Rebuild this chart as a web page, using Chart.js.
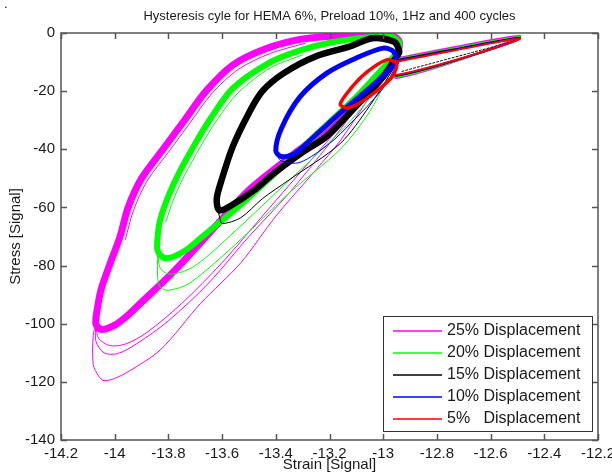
<!DOCTYPE html>
<html>
<head>
<meta charset="utf-8">
<script src="https://cdn.jsdelivr.net/npm/chart.js@4"></script>
<style>
  html, body { margin: 0; padding: 0; background: #fff; }
  #wrap { width: 612px; height: 474px; }
</style>
</head>
<body>
<div id="wrap"><canvas id="hyst" width="612" height="474"></canvas></div>
<script>
// tick labels
const xTickLabels = ['-14.2', '-14', '-13.8', '-13.6', '-13.4', '-13.2', '-13', '-12.8', '-12.6', '-12.4', '-12.2'];
const yTickLabels = ['-140', '-120', '-100', '-80', '-60', '-40', '-20', '0'];

const legendLabels = ['25% Displacement', '20% Displacement', '15% Displacement', '10% Displacement', '5%   Displacement'];
const seriesColors = ['#ff00ff', '#00ff00', '#000000', '#0000ff', '#ff0000'];

// 25% displacement - settled loop (thick band) and first cycles
const strain25 = [-12.95, -12.94, -12.97, -13.03, -13.18, -13.31, -13.44, -13.56, -13.66, -13.74, -13.82, -13.90, -13.95, -13.98, -14.02, -14.05, -14.065, -14.07, -14.05, -14.00, -13.95, -13.91, -13.78, -13.62, -13.50, -13.31, -13.21, -13.10, -13.00, -12.95];
const stress25 = [-9, -3, -0.8, -0.6, -1, -2.2, -5.5, -11, -20, -30, -40, -50, -60, -70, -80, -88, -95, -100, -102, -100.5, -97, -93.5, -82, -66, -54, -40, -33, -23, -13, -9];
const strain25First = [-12.95, -12.97, -13.05, -13.16, -13.25, -13.40, -13.53, -13.68, -13.83, -13.95, -14.00, -14.04, -14.06, -14.08, -14.08, -14.07];
const stress25First = [-9, -12, -22, -37, -47, -63, -79, -93, -109, -116.5, -118.8, -119.6, -118, -114, -104, -100];
const strain25Second = [-14.07, -14.07, -14.04, -13.99, -13.92, -13.80, -13.65, -13.50, -13.35, -13.20, -13.05, -12.96];
const stress25Second = [-100, -106, -110, -110.3, -107, -99, -86, -70, -55, -38, -20, -11];
const strain25Third = [-14.07, -14.06, -14.02, -13.96, -13.88, -13.75, -13.60, -13.45, -13.30, -13.15, -13.02, -12.96];
const stress25Third = [-101, -105, -107.5, -107, -103, -93, -79, -63, -47, -31, -16, -10];
const strain25Inner = [-13.29, -13.42, -13.54, -13.64, -13.72, -13.80, -13.88, -13.93, -13.96];
const stress25Inner = [-3.5, -7, -12.5, -21, -31, -41, -51, -61, -71];

// 20% displacement
const strain20 = [-12.95, -12.94, -12.97, -13.05, -13.19, -13.31, -13.43, -13.56, -13.64, -13.70, -13.76, -13.80, -13.83, -13.84, -13.84, -13.81, -13.74, -13.66, -13.53, -13.40, -13.25, -13.10, -13.00, -12.95];
const stress20 = [-7, -3.5, -1.3, -1.5, -3.2, -6, -10.5, -19, -29, -38, -48, -56, -64, -70, -75, -77.5, -75, -69, -59, -48, -35, -22, -12, -7];
const strain20First = [-12.97, -13.05, -13.16, -13.35, -13.53, -13.72, -13.80, -13.83, -13.84, -13.84];
const stress20First = [-13, -27, -40, -55, -71, -86, -88.5, -87.5, -84, -76];
const strain20Second = [-13.84, -13.83, -13.79, -13.70, -13.55, -13.40, -13.25, -13.10, -12.97];
const stress20Second = [-75, -81, -83, -80, -68, -55, -42, -28, -12];
const strain20Inner = [-13.30, -13.42, -13.54, -13.62, -13.68, -13.74, -13.78, -13.81];
const stress20Inner = [-7.5, -12, -20.5, -30, -39, -49, -57, -65];

// 15% displacement
const strain15 = [-12.95, -12.94, -12.96, -13.04, -13.13, -13.25, -13.37, -13.45, -13.50, -13.56, -13.60, -13.62, -13.61, -13.56, -13.48, -13.41, -13.30, -13.21, -13.10, -13.00, -12.95];
const stress15 = [-8, -6.6, -3, -1.8, -4.8, -8, -13.8, -20, -27.5, -39, -50, -57, -61, -59, -54, -48.5, -41, -35.5, -25, -15, -8];
const strain15First = [-13.62, -13.61, -13.60, -13.53, -13.45, -13.35, -13.16, -13.05, -12.96];
const stress15First = [-60, -63, -65.5, -63.5, -57, -50.5, -38, -25, -12];

// 10% displacement
const strain10 = [-12.95, -12.96, -13.00, -13.10, -13.21, -13.31, -13.38, -13.40, -13.38, -13.33, -13.25, -13.16, -13.04, -12.96, -12.95];
const stress10 = [-10, -6.5, -5.2, -8.6, -13.8, -22, -33, -40.5, -42.5, -41.5, -35, -27.5, -18, -11, -10];
const strain10First = [-13.40, -13.38, -13.31, -13.20, -13.12, -13.00, -12.95];
const stress10First = [-41, -44, -44.5, -38, -31, -19, -11];

// 5% displacement
const strain5 = [-12.95, -12.99, -13.06, -13.12, -13.16, -13.13, -13.06, -12.97, -12.95, -12.95];
const stress5 = [-10, -9.3, -13.4, -19, -24.5, -25.8, -22.4, -15.5, -11.7, -10];

// preload ramp (the thin wedge on the right), one per test
const rampStrain = [-12.94, -12.49, -12.95, -12.95];
const rampStress25 = [-8.6, -1.2, -15.4, -9];
const rampStress20 = [-8.9, -1.5, -15.1, -9];
const rampStress15 = [-9.1, -1.7, -14.8, -9];
const rampStress10 = [-9.4, -1.9, -14.6, -9.4];
const rampStress5 = [-9.7, -2.0, -14.4, -9.7];
const rampInnerStrain = [-12.93, -12.52];
const rampInnerStress = [-13.2, -3];

const fontFamily = "'Liberation Sans', Arial, sans-serif";
const textColor = '#1a1a1a';

function pts(xs, ys) {
    return xs.map((x, i) => ({ x: x, y: ys[i] }));
}

function trace(xs, ys, color, width, dash) {
    return {
        data: pts(xs, ys),
        borderColor: color,
        borderWidth: width,
        borderDash: dash || [],
        showLine: true,
        pointRadius: 0,
        fill: false,
        tension: 0.3,
        borderJoinStyle: 'round',
        borderCapStyle: 'round'
    };
}

const [cM, cG, cK, cB, cR] = seriesColors;

// listed in plotting order, first one lowest
const traces = [
    trace(strain25First, stress25First, cM, 1),
    trace(strain25Second, stress25Second, cM, 1),
    trace(strain25Third, stress25Third, cM, 1),
    trace(strain25, stress25, cM, 7),
    trace(strain25Inner, stress25Inner, cM, 1),
    trace(rampStrain, rampStress25, cM, 2.5),

    trace(strain20First, stress20First, cG, 1),
    trace(strain20Second, stress20Second, cG, 1),
    trace(strain20, stress20, cG, 6),
    trace(strain20Inner, stress20Inner, cG, 1),
    trace(rampStrain, rampStress20, cG, 2),

    trace(strain15First, stress15First, cK, 1),
    trace(strain15, stress15, cK, 6.5),
    trace(rampStrain, rampStress15, cK, 1.5),
    trace(rampInnerStrain, rampInnerStress, cK, 1, [2, 2]),

    trace(strain10First, stress10First, cB, 1),
    trace(strain10, stress10, cB, 5),
    trace(rampStrain, rampStress10, cB, 2),

    trace(strain5, stress5, cR, 3.5),
    trace(rampStrain, rampStress5, cR, 2)
];
traces.forEach((t, i) => { t.order = traces.length - i; });

// MATLAB style box, inward ticks and legend
const boxPlugin = {
    id: 'matlabBox',
    afterDraw(chart) {
        const { ctx, chartArea: a, scales: { x, y } } = chart;
        ctx.save();
        ctx.strokeStyle = '#555';
        ctx.lineWidth = 1.5;
        ctx.strokeRect(a.left, a.top, a.right - a.left, a.bottom - a.top);
        ctx.beginPath();
        xTickLabels.forEach(l => {
            const px = Math.round(x.getPixelForValue(Number(l))) + 0.5;
            ctx.moveTo(px, a.bottom); ctx.lineTo(px, a.bottom - 6);
            ctx.moveTo(px, a.top); ctx.lineTo(px, a.top + 6);
        });
        yTickLabels.forEach(l => {
            const py = Math.round(y.getPixelForValue(Number(l))) + 0.5;
            ctx.moveTo(a.left, py); ctx.lineTo(a.left + 6, py);
            ctx.moveTo(a.right, py); ctx.lineTo(a.right - 6, py);
        });
        ctx.stroke();

        // legend box
        const lx = 383, ly = 316, lw = 209, lh = 115;
        ctx.fillStyle = '#fff';
        ctx.fillRect(lx, ly, lw, lh);
        ctx.strokeStyle = '#333';
        ctx.lineWidth = 1;
        ctx.strokeRect(lx + 0.5, ly + 0.5, lw, lh);
        ctx.font = '16px ' + fontFamily;
        ctx.textBaseline = 'middle';
        ctx.textAlign = 'left';
        legendLabels.forEach((label, i) => {
            const ry = ly + 15 + i * 22;
            ctx.beginPath();
            ctx.strokeStyle = seriesColors[i];
            ctx.lineWidth = 1.5;
            ctx.moveTo(lx + 10, ry);
            ctx.lineTo(lx + 59, ry);
            ctx.stroke();
            ctx.fillStyle = textColor;
            ctx.fillText(label, lx + 64, ry);
        });

        ctx.fillStyle = textColor;
        ctx.font = '13px ' + fontFamily;
        ctx.fillText('.', 4, 4);
        ctx.restore();
    }
};

new Chart(document.getElementById('hyst'), {
    type: 'scatter',
    data: { datasets: traces },
    options: {
        responsive: false,
        animation: false,
        layout: { padding: { left: 0, right: 14, top: 0, bottom: 0 } },
        plugins: {
            legend: { display: false },
            tooltip: { enabled: false },
            title: {
                display: true,
                fullSize: false,
                text: 'Hysteresis cyle for HEMA 6%, Preload 10%, 1Hz and 400 cycles',
                color: textColor,
                font: { family: fontFamily, size: 13, weight: 'normal' },
                padding: { top: 9, bottom: 8.4 }
            }
        },
        scales: {
            x: {
                type: 'linear',
                min: -14.2,
                max: -12.2,
                afterBuildTicks: s => { s.ticks = xTickLabels.map(l => ({ value: Number(l) })); },
                afterFit: s => { s.height = 34; s.paddingLeft = 0; s.paddingRight = 0; },
                grid: { display: false, drawTicks: false },
                border: { display: false },
                ticks: {
                    autoSkip: false,
                    maxRotation: 0,
                    padding: 5,
                    color: textColor,
                    font: { family: fontFamily, size: 15 },
                    callback: (v, i) => xTickLabels[i]
                },
                title: {
                    display: true,
                    text: 'Strain [Signal]',
                    color: textColor,
                    font: { family: fontFamily, size: 15 },
                    padding: { top: 0, bottom: 0.5 }
                }
            },
            y: {
                type: 'linear',
                min: -140,
                max: 0,
                afterBuildTicks: s => { s.ticks = yTickLabels.map(l => ({ value: Number(l) })); },
                afterFit: s => { s.width = 61; s.paddingTop = 0; s.paddingBottom = 0; },
                grid: { display: false, drawTicks: false },
                border: { display: false },
                ticks: {
                    autoSkip: false,
                    padding: 6,
                    color: textColor,
                    font: { family: fontFamily, size: 15 },
                    callback: (v, i) => yTickLabels[i]
                },
                title: {
                    display: true,
                    text: 'Stress [Signal]',
                    color: textColor,
                    font: { family: fontFamily, size: 15 },
                    padding: { top: 7, bottom: 0 }
                }
            }
        }
    },
    plugins: [boxPlugin]
});
</script>
</body>
</html>
